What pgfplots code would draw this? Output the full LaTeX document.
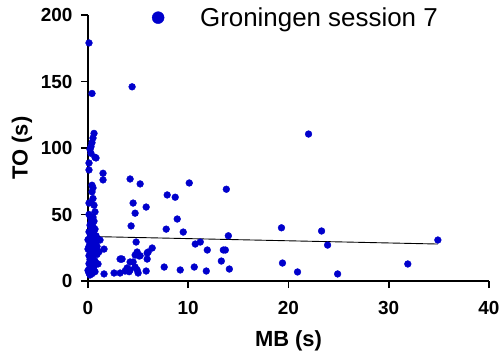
\documentclass[border=0pt]{standalone}
\usepackage{fontspec}
\setmainfont{Liberation Sans}
\usepackage{pgfplots}
\pgfplotsset{compat=1.18}
\definecolor{dotblue}{RGB}{0,0,204}
\begin{document}
\begin{tikzpicture}
\useasboundingbox (-88bp,-77bp) rectangle (414bp,281bp);
\begin{axis}[
  at={(0bp,0bp)}, anchor=south west,
  scale only axis, width=401bp, height=266bp,
  xmin=0, xmax=40, ymin=0, ymax=200,
  axis x line*=bottom, axis y line*=left,
  axis line style={line width=1.6bp},
  xtick={0,10,...,40}, ytick={0,50,...,200},
  tick style={line width=1.6bp, black},
  major tick length=7bp, tick align=outside,
  ticklabel style={font=\fontsize{19}{19}\selectfont\bfseries},
  xticklabel shift=10bp, yticklabel shift=5bp,
  xlabel shift=9bp, ylabel shift=2bp,
  /pgf/number format/assume math mode=true,
  xlabel={MB (s)}, ylabel={TO (s)},
  label style={font=\fontsize{22}{22}\selectfont\bfseries},
  clip=false,
  legend style={draw=none, fill=none, at={(0.152,0.99)}, anchor=west,
    font=\fontsize{26}{26}\selectfont},
  legend cell align=left,
]
\addlegendimage{only marks, mark=*, mark size=6bp, dotblue, mark options={draw=dotblue, fill=dotblue}}
\addlegendentry{\hspace*{34bp}Groningen session 7}
\addplot[only marks, mark=*, mark size=3.4bp, color=dotblue, mark options={draw=dotblue, fill=dotblue}, forget plot] coordinates {
(0.1,179) (0.4,141) (0.6,111) (0.5,107.5) (0.4,104) (0.3,101) (0.2,99) (0.3,96)
(0.7,93) (0.8,92.5) (0.1,88.7) (0.1,83.5) (0.4,72) (0.5,70) (0.4,67) (0.5,62)
(0.3,59) (0.1,58.6) (0.6,57) (0.7,52) (0.5,48) (0.3,44) (0.5,41) (0.6,38) (0.8,34)
(0.1,50) (0.3,47) (0.6,45) (0.2,42) (0.4,40) (0.7,39) (0.1,37) (0.3,36) (0.5,35)
(0.2,33) (0.6,32) (0.0,31) (0.4,30) (0.8,29) (0.2,28) (0.5,27) (0.1,26) (0.3,25)
(0.7,24) (0.0,24) (0.4,23) (0.2,22) (0.6,21) (0.9,20) (0.1,19) (0.3,18) (0.5,17)
(0.2,16) (0.7,15) (0.4,14) (0.1,13) (0.3,12) (0.6,11) (0.2,10) (0.5,9) (0.0,8)
(0.3,7.5) (0.7,7) (0.1,6) (0.4,5.5) (0.2,4.5) (1.0,12.8) (1.2,30.8) (0.9,26) (1.1,22)
(1.5,81) (1.5,76) (1.6,24) (1.6,5.3) (2.6,6) (3.2,6) (3.3,16.5) (3.4,16.5) (3.2,16.5)
(4.4,146) (4.2,76.7) (5.2,73) (10.1,73.7) (13.8,69) (7.9,64.7) (8.7,63) (4.5,58.6)
(5.8,55.6) (4.7,51) (8.9,46.6) (4.3,41.4) (7.8,39) (9.5,36.8) (14.0,34) (4.8,29.3)
(10.7,27.8) (11.2,29.3) (11.9,23.3) (13.5,23.3) (13.7,23.3) (6.4,24.8) (6.0,21.8)
(5.9,21) (4.9,21.8) (5.1,18.8) (4.7,19.5) (5.2,19) (5.9,16.5) (4.2,14.3) (4.5,14.3)
(3.9,9.8) (4.2,8.3) (4.7,10.5) (5.0,6) (4.9,8.3) (3.7,7.5) (3.9,8.5) (4.1,7.0)
(5.8,7.5) (7.6,10.5) (9.2,8.3) (10.6,10.5) (11.8,7.5) (13.3,15) (14.1,9)
(22.0,110.5) (34.9,30.8) (19.3,40) (23.3,37.6) (23.9,27) (19.4,13.5) (20.9,6.8)
(24.9,5.3) (31.9,12.8)
};
\addplot[black, line width=0.9bp, forget plot] coordinates {(0.05,33.5) (34.9,27.8)};
\end{axis}
\end{tikzpicture}
\end{document}
